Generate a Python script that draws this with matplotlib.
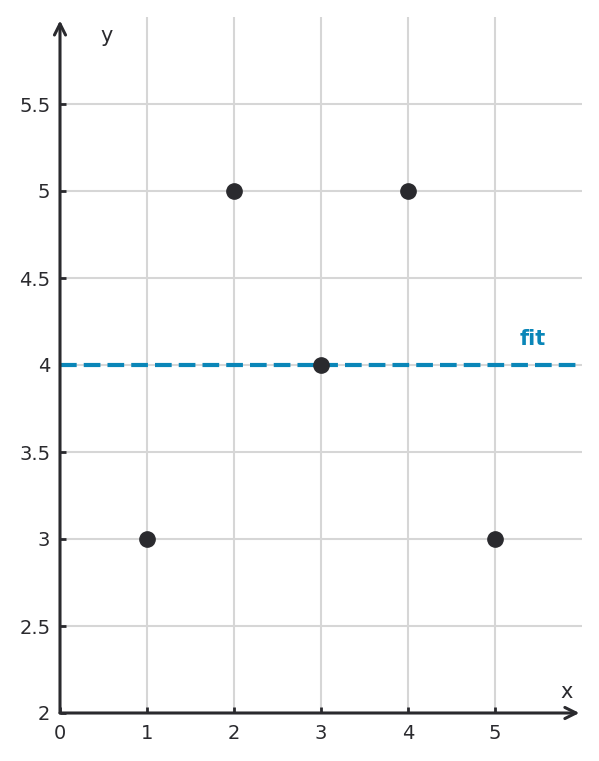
import matplotlib.pyplot as plt

# data
xs = [1, 2, 3, 4, 5]
ys = [3, 5, 4, 5, 3]
fit_y = 4.0
x_ticks = [0, 1, 2, 3, 4, 5]
y_ticks = [2, 2.5, 3, 3.5, 4, 4.5, 5, 5.5]
y_tick_labels = ["2", "2.5", "3", "3.5", "4", "4.5", "5", "5.5"]

dark = "#2a2a2e"
blue = "#0a86b8"

fig = plt.figure(figsize=(5.99, 7.61), dpi=100)
ax = fig.add_axes([60 / 599, 48 / 761, 522 / 599, 696 / 761])
ax.set_xlim(0, 6)
ax.set_ylim(2, 6)

for s in ax.spines.values():
    s.set_visible(False)

# grid
for t in x_ticks[1:]:
    ax.axvline(t, color="#d6d6d6", lw=1.5, zorder=0)
for t in y_ticks[1:]:
    ax.axhline(t, color="#d6d6d6", lw=1.5, zorder=0)

# axes with arrows
ax.annotate("", xy=(5.97, 2), xytext=(0, 2), xycoords="data",
            arrowprops=dict(arrowstyle="->", color=dark, lw=2.2,
                            mutation_scale=20, shrinkA=0, shrinkB=0),
            annotation_clip=False)
ax.annotate("", xy=(0, 5.98), xytext=(0, 2), xycoords="data",
            arrowprops=dict(arrowstyle="->", color=dark, lw=2.2,
                            mutation_scale=20, shrinkA=0, shrinkB=0),
            annotation_clip=False)

ax.set_xticks(x_ticks)
ax.set_yticks(y_ticks)
ax.set_yticklabels(y_tick_labels)
ax.tick_params(axis="both", direction="in", length=4, width=2, color=dark,
               labelcolor=dark, labelsize=14)
ax.tick_params(axis="x", pad=8)
ax.tick_params(axis="y", pad=7)

ax.text(5.82, 2.12, "x", fontsize=15, color=dark, ha="center", va="center")
ax.text(0.53, 5.89, "y", fontsize=15, color=dark, ha="center", va="center")

# fit line
ax.plot([0, 5.95], [fit_y, fit_y], color=blue, lw=3, dashes=(4, 1.7), zorder=2)
ax.text(5.43, fit_y + 0.15, "fit", color=blue, fontsize=15, fontweight="bold",
        ha="center", va="center")

# points
ax.plot(xs, ys, "o", color=dark, markersize=11, zorder=3, clip_on=False)

fig.savefig("out.png", dpi=100)
